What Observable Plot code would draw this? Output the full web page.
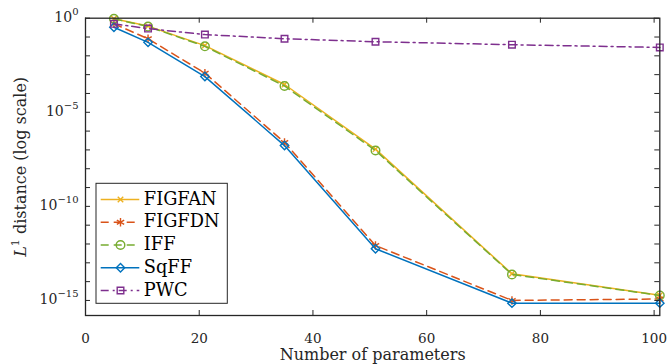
<!DOCTYPE html>
<html><head><meta charset="utf-8">
<script src="https://cdn.jsdelivr.net/npm/d3@7"></script>
<script src="https://cdn.jsdelivr.net/npm/@observablehq/plot@0.6"></script>
<style>body{margin:0;background:#fff}</style>
</head><body><div id="chart"></div>
<script>
// ---- data ----
const params = [5, 11, 21, 35, 51, 75, 101];
const seriesNames = ["FIGFAN", "FIGFDN", "IFF", "SqFF", "PWC"];
const figfan = [0.93, 0.38, 3.5e-2, 3.0e-4, 1.1e-7, 2.6e-14, 1.9e-15];
const figfdn = [0.50, 8.1e-2, 1.2e-3, 2.5e-7, 8.3e-13, 1.0e-15, 1.2e-15];
const iff    = [0.93, 0.36, 3.2e-2, 2.5e-4, 9.3e-8, 2.4e-14, 1.85e-15];
const sqff   = [0.33, 5.2e-2, 7.9e-4, 1.7e-7, 5.6e-13, 7.2e-16, 7.2e-16];
const pwc    = [0.50, 0.28, 0.135, 0.081, 0.056, 0.039, 0.028];
const seriesValues = [figfan, figfdn, iff, sqff, pwc];
const xTicks = [0, 20, 40, 60, 80, 100];
const yLabelTicks = [1, 1e-5, 1e-10, 1e-15];
const yMinorTicks = [1e0,1e-1,1e-2,1e-3,1e-4,1e-5,1e-6,1e-7,1e-8,1e-9,1e-10,1e-11,1e-12,1e-13,1e-14,1e-15];
const xLabel = "Number of parameters";
const yLabelParts = ["L", "1", " distance (log scale)"];

// ---- styles ----
const FONT = "DejaVu Serif";
const styles = {
  FIGFAN: {color: "#EDB120", symbol: "times",    r: 2.6, dash: null},
  FIGFDN: {color: "#D95319", symbol: "asterisk", r: 4.0, dash: "8,5"},
  IFF:    {color: "#77AC30", symbol: "circle",   r: 4.3, dash: "8,5"},
  SqFF:   {color: "#0072BD", symbol: "diamond2", r: 3.8, dash: null},
  PWC:    {color: "#7E2F8E", symbol: "square2",  r: 4.2, dash: "8,4,2,4"}
};
const W = 668, H = 364, mL = 85, mR = 8.7, mT = 17.7, mB = 49;
const xDomain = [0, 101];
const yLo = -15.8, yHi = 0;
const yDomain = [10 ** yLo, 10 ** yHi];
const plotW = W - mL - mR, plotH = H - mT - mB;
const axisColor = "#262626";
const tickLen = 5;
// pixel -> data helpers (legend placement only)
const xInv = px => xDomain[0] + (px - mL) / plotW * (xDomain[1] - xDomain[0]);
const yInv = py => 10 ** (yLo + (H - mB - py) / plotH * (yHi - yLo));

const rows = seriesNames.flatMap((s, k) => params.map((p, i) => ({series: s, x: p, y: seriesValues[k][i]})));

const dataMarks = seriesNames.flatMap(s => {
  const st = styles[s];
  const d = rows.filter(r => r.series === s);
  return [
    Plot.line(d, {x: "x", y: "y", stroke: st.color, strokeWidth: 1.5, strokeDasharray: st.dash}),
    Plot.dot(d, {x: "x", y: "y", symbol: st.symbol, r: st.r, stroke: st.color, fill: "none", strokeWidth: 1.4})
  ];
});

const legendLeft = 96, legendRight = 227.3, legendTop = 183.3, legendBottom = 303.3;
const rowY0 = 199, rowStep = 22.75;
const legendMarks = [
  Plot.rect([0], {x1: xInv(legendLeft), x2: xInv(legendRight), y1: yInv(legendBottom), y2: yInv(legendTop), fill: "white", stroke: axisColor, strokeWidth: 1})
].concat(seriesNames.flatMap((s, i) => {
  const st = styles[s];
  const yy = yInv(rowY0 + i * rowStep);
  return [
    Plot.ruleY([yy], {x1: xInv(100.7), x2: xInv(139.3), stroke: st.color, strokeWidth: 1.5, strokeDasharray: st.dash}),
    Plot.dot([0], {x: xInv(120), y: yy, symbol: st.symbol, r: st.r, stroke: st.color, fill: "none", strokeWidth: 1.4}),
    Plot.text([s], {x: xInv(143.3), y: yy, dy: -0.7, text: d => d, textAnchor: "start", lineAnchor: "middle", fontSize: 17.8, fontFamily: FONT, fill: "#000"})
  ];
}));

const plot = Plot.plot({
  width: W, height: H,
  marginLeft: mL, marginRight: mR, marginTop: mT, marginBottom: mB,
  style: {background: "#fff", color: axisColor},
  x: {domain: xDomain, axis: null},
  y: {type: "log", domain: yDomain, axis: null},
  marks: [
    ...dataMarks,
    // inward ticks on all four sides
    Plot.tickX(xTicks, {x: d => d, insetTop: plotH - tickLen, stroke: axisColor, strokeWidth: 1}),
    Plot.tickX(xTicks, {x: d => d, insetBottom: plotH - tickLen, stroke: axisColor, strokeWidth: 1}),
    Plot.tickY(yMinorTicks, {y: d => d, insetRight: plotW - tickLen, stroke: axisColor, strokeWidth: 1}),
    Plot.tickY(yMinorTicks, {y: d => d, insetLeft: plotW - tickLen, stroke: axisColor, strokeWidth: 1}),
    Plot.frame({stroke: axisColor, strokeWidth: 1.3}),
    // tick labels
    Plot.text(xTicks, {x: d => d, frameAnchor: "bottom", dy: 17.5, lineAnchor: "top", text: d => String(d), fontSize: 13.5, fontFamily: FONT, fill: axisColor}),
    Plot.text(yLabelTicks, {y: d => d, frameAnchor: "left", dx: -7, dy: -1, textAnchor: "end", lineAnchor: "middle",
      text: d => { const e = Math.round(Math.log10(d)); return "10^" + (e < 0 ? "\u2212" + (-e) : String(e)); },
      fontSize: 14, fontFamily: FONT, fill: axisColor}),
    // axis labels
    Plot.text([xLabel], {frameAnchor: "bottom", dy: 33.4, lineAnchor: "top", text: d => d, fontSize: 16, fontFamily: FONT, fill: axisColor}),
    Plot.text([yLabelParts.join("")], {frameAnchor: "left", dx: -65.1, rotate: -90, textAnchor: "middle", lineAnchor: "middle", text: d => d, fontSize: 16, fontFamily: FONT, fill: axisColor}),
    ...legendMarks
  ]
});

// typeset exponents and the italic L with superscript
const NS = "http://www.w3.org/2000/svg";
plot.querySelectorAll("text").forEach(t => {
  const s = t.textContent;
  if (s.startsWith("10^")) {
    t.textContent = "10";
    const ts = document.createElementNS(NS, "tspan");
    ts.setAttribute("dy", "-6.7");
    ts.setAttribute("font-size", "10");
    ts.textContent = s.slice(3);
    t.appendChild(ts);
  } else if (s === yLabelParts.join("")) {
    t.textContent = "";
    const a = document.createElementNS(NS, "tspan");
    a.setAttribute("font-style", "italic"); a.textContent = yLabelParts[0];
    const b = document.createElementNS(NS, "tspan");
    b.setAttribute("dy", "-6.5"); b.setAttribute("font-size", "11"); b.textContent = yLabelParts[1];
    const c = document.createElementNS(NS, "tspan");
    c.setAttribute("dy", "6.5"); c.textContent = yLabelParts[2];
    t.append(a, b, c);
  }
});
document.getElementById("chart").appendChild(plot);
</script>
</body></html>
